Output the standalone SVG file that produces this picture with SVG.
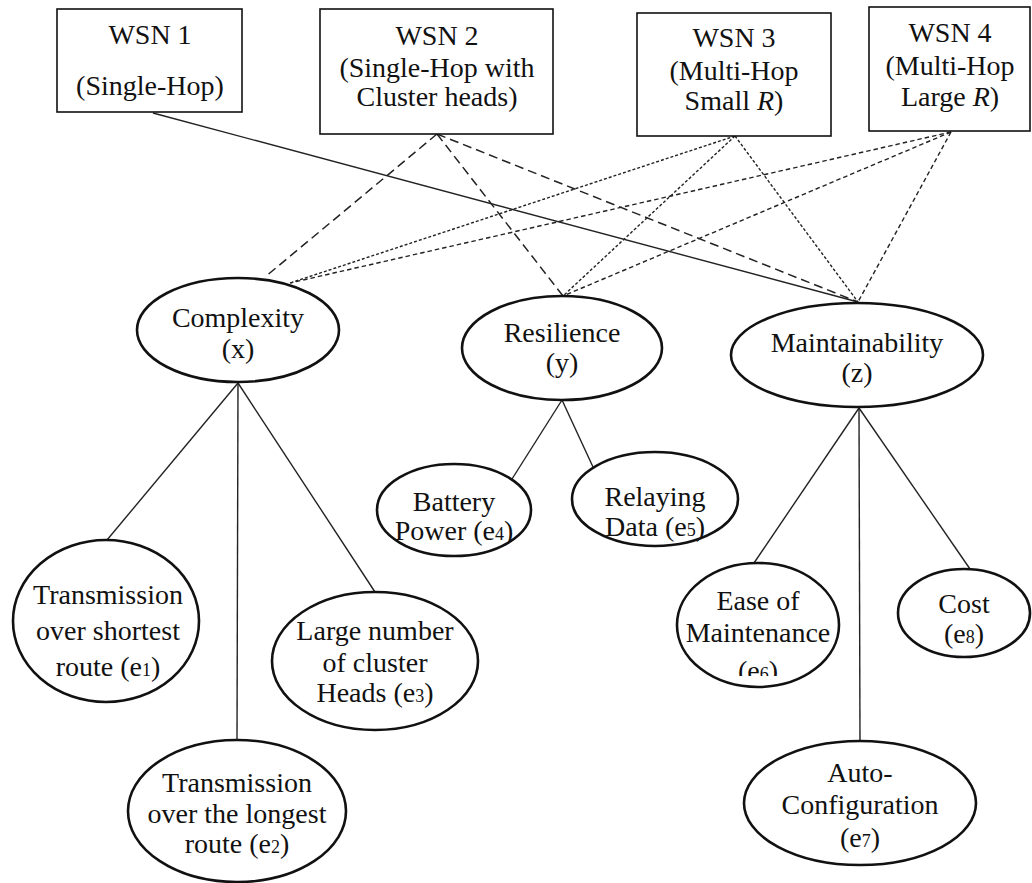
<svg xmlns="http://www.w3.org/2000/svg" width="1032" height="883" viewBox="0 0 1032 883">
<style>
text{font-family:"Liberation Serif","Times New Roman",serif;font-size:28px;fill:#111;text-anchor:middle}
.sub{font-size:18px}
.box{fill:#fff;stroke:#111;stroke-width:1.6}
.ell{fill:#fff;stroke:#111;stroke-width:2.6}
.solid{stroke:#222;stroke-width:1.4;fill:none}
.d2{stroke:#222;stroke-width:1.5;fill:none;stroke-dasharray:9 5}
.d3{stroke:#222;stroke-width:1.4;fill:none;stroke-dasharray:3 2}
.d4{stroke:#222;stroke-width:1.4;fill:none;stroke-dasharray:4.5 3}
</style>
<defs>
<clipPath id="clipE6"><rect x="700" y="640" width="120" height="36"/></clipPath>
</defs>
<rect width="1032" height="883" fill="#fff"/>
<g id="connectors">
<line class="solid" x1="153" y1="113" x2="858" y2="302"/>
<line class="d2" x1="437" y1="134" x2="265" y2="277"/>
<line class="d2" x1="437" y1="134" x2="563" y2="296"/>
<line class="d2" x1="437" y1="134" x2="858" y2="302"/>
<line class="d3" x1="735" y1="136" x2="290" y2="283"/>
<line class="d3" x1="735" y1="136" x2="563" y2="296"/>
<line class="d3" x1="735" y1="136" x2="858" y2="302"/>
<line class="d4" x1="951" y1="132" x2="290" y2="283"/>
<line class="d4" x1="951" y1="132" x2="563" y2="296"/>
<line class="d4" x1="951" y1="132" x2="858" y2="302"/>
<line class="solid" x1="238" y1="383" x2="107" y2="540"/>
<line class="solid" x1="238" y1="383" x2="237" y2="740"/>
<line class="solid" x1="238" y1="383" x2="375" y2="592"/>
<line class="solid" x1="562" y1="400" x2="512" y2="479"/>
<line class="solid" x1="562" y1="400" x2="593" y2="467"/>
<line class="solid" x1="859" y1="408" x2="754" y2="563"/>
<line class="solid" x1="859" y1="408" x2="860" y2="741"/>
<line class="solid" x1="859" y1="408" x2="970" y2="569"/>
</g>
<g id="wsn1">
<rect class="box" x="57" y="9" width="185" height="103"/>
<text x="150" y="44">WSN 1</text>
<text x="150" y="95">(Single-Hop)</text>
</g>
<g id="wsn2">
<rect class="box" x="320" y="9" width="233" height="125"/>
<text x="437" y="45">WSN 2</text>
<text x="437" y="77">(Single-Hop with</text>
<text x="437" y="106">Cluster heads)</text>
</g>
<g id="wsn3">
<rect class="box" x="637" y="13" width="194" height="123"/>
<text x="734" y="47">WSN 3</text>
<text x="734" y="80">(Multi-Hop</text>
<text x="734" y="110">Small <tspan font-style="italic">R</tspan>)</text>
</g>
<g id="wsn4">
<rect class="box" x="869" y="7" width="161" height="124"/>
<text x="950" y="42">WSN 4</text>
<text x="950" y="75">(Multi-Hop</text>
<text x="950" y="106">Large <tspan font-style="italic">R</tspan>)</text>
</g>
<g id="complexity">
<ellipse class="ell" cx="238" cy="330" rx="101" ry="52"/>
<text x="238" y="327">Complexity</text>
<text x="238" y="358">(x)</text>
</g>
<g id="resilience">
<ellipse class="ell" cx="562" cy="348" rx="100" ry="52"/>
<text x="562" y="342">Resilience</text>
<text x="562" y="372">(y)</text>
</g>
<g id="maintainability">
<ellipse class="ell" cx="857" cy="355" rx="126" ry="52"/>
<text x="857" y="352">Maintainability</text>
<text x="857" y="382">(z)</text>
</g>
<g id="e1">
<ellipse class="ell" cx="106" cy="621" rx="93" ry="81"/>
<text x="108" y="604">Transmission</text>
<text x="108" y="640">over shortest</text>
<text x="108" y="676">route (e<tspan class="sub">1</tspan>)</text>
</g>
<g id="e2">
<ellipse class="ell" cx="237" cy="811" rx="109" ry="71"/>
<text x="237" y="792">Transmission</text>
<text x="237" y="823">over the longest</text>
<text x="237" y="853">route (e<tspan class="sub">2</tspan>)</text>
</g>
<g id="e3">
<ellipse class="ell" cx="375" cy="661" rx="103" ry="69"/>
<text x="375" y="640">Large number</text>
<text x="375" y="672">of cluster</text>
<text x="375" y="702">Heads (e<tspan class="sub">3</tspan>)</text>
</g>
<g id="e4">
<ellipse class="ell" cx="454" cy="510" rx="77" ry="46"/>
<text x="454" y="511">Battery</text>
<text x="454" y="540">Power (e<tspan class="sub">4</tspan>)</text>
</g>
<g id="e5">
<ellipse class="ell" cx="655" cy="499" rx="83" ry="47"/>
<text x="655" y="506">Relaying</text>
<text x="655" y="536">Data (e<tspan class="sub">5</tspan>)</text>
</g>
<g id="e6">
<ellipse class="ell" cx="758" cy="625" rx="81" ry="62"/>
<text x="758" y="610">Ease of</text>
<text x="758" y="642">Maintenance</text>
<text x="758" y="680" clip-path="url(#clipE6)">(e<tspan class="sub">6</tspan>)</text>
</g>
<g id="e7">
<ellipse class="ell" cx="860" cy="803" rx="116" ry="62"/>
<text x="860" y="782">Auto-</text>
<text x="860" y="814">Configuration</text>
<text x="860" y="847">(e<tspan class="sub">7</tspan>)</text>
</g>
<g id="e8">
<ellipse class="ell" cx="964" cy="613" rx="66" ry="44"/>
<text x="964" y="613">Cost</text>
<text x="964" y="643">(e<tspan class="sub">8</tspan>)</text>
</g>
</svg>
